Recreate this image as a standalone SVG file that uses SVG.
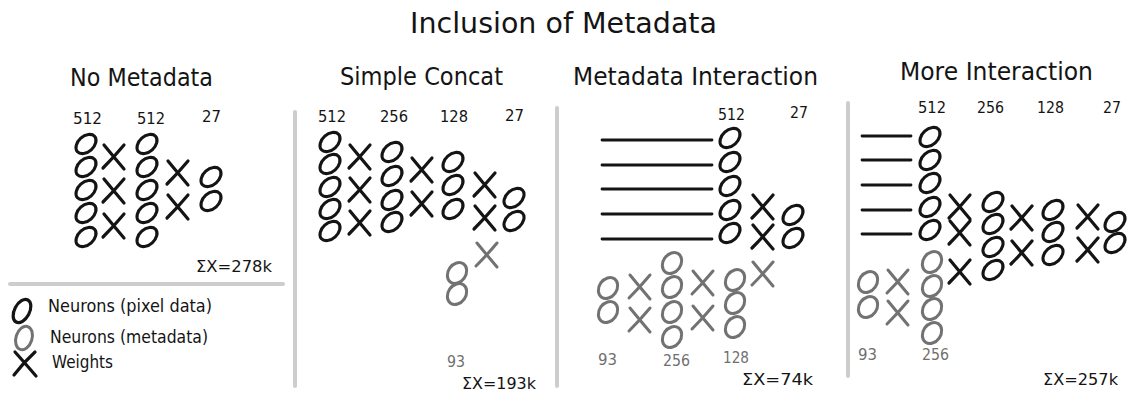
<svg xmlns="http://www.w3.org/2000/svg" xmlns:xlink="http://www.w3.org/1999/xlink" width="1135" height="398" viewBox="0 0 1135 398">
  <style>
    text { font-family: "DejaVu Sans", "Liberation Sans", sans-serif; fill: #141414; }
    .title { font-size: 28.5px; }
    .head { font-size: 24.5px; }
    .num { font-size: 16.5px; }
    .num.md { fill: #6f6f6f; }
    .sum { font-size: 16.5px; }
    .leg { font-size: 18.5px; }
    .divider { stroke: #cdcdcd; stroke-width: 4; stroke-linecap: round; fill: none; }
    .line { stroke: #141414; stroke-width: 2.8; stroke-linecap: round; }
  </style>
  <defs>
    <!-- neuron carrying pixel data -->
    <ellipse id="op" rx="11.5" ry="7.8" transform="rotate(-42)" fill="none" stroke="#141414" stroke-width="3.1"/>
    <!-- neuron carrying metadata -->
    <ellipse id="om" rx="11.2" ry="8.8" transform="rotate(-55)" fill="none" stroke="#727272" stroke-width="3"/>
    <!-- weight blocks -->
    <path id="xp" d="M-10,-12 Q-1,-1 10,12 M10,-12 Q0,0 -11,11" fill="none" stroke="#141414" stroke-width="3.2" stroke-linecap="round"/>
    <path id="xm" d="M-10,-12 Q-1,-1 10,12 M10,-12 Q0,0 -11,11" fill="none" stroke="#727272" stroke-width="3" stroke-linecap="round"/>
  </defs>

  <rect width="1135" height="398" fill="#ffffff"/>

  <text class="title" x="410" y="33" textLength="307" lengthAdjust="spacingAndGlyphs">Inclusion of Metadata</text>

  <!-- panel separators -->
  <g id="dividers">
    <line class="divider" x1="10" y1="284" x2="283" y2="284"/>
    <line class="divider" x1="295" y1="112" x2="295" y2="386"/>
    <line class="divider" x1="557" y1="108" x2="557" y2="386"/>
    <line class="divider" x1="848" y1="103" x2="848" y2="376"/>
  </g>

  <!-- No Metadata -->
  <g id="panel-no-metadata">
    <text class="head" x="70" y="86" textLength="143" lengthAdjust="spacingAndGlyphs">No Metadata</text>
    <text class="num" x="73" y="124" textLength="29" lengthAdjust="spacingAndGlyphs">512</text>
    <text class="num" x="137" y="124" textLength="28" lengthAdjust="spacingAndGlyphs">512</text>
    <text class="num" x="202" y="122" textLength="19" lengthAdjust="spacingAndGlyphs">27</text>
    <g id="nm-l1">
      <use href="#op" x="86" y="144"/><use href="#op" x="86" y="167"/><use href="#op" x="86" y="190"/><use href="#op" x="86" y="213"/><use href="#op" x="86" y="237"/>
    </g>
    <g id="nm-w1">
      <use href="#xp" x="114" y="157"/><use href="#xp" x="114" y="191"/><use href="#xp" x="114" y="226"/>
    </g>
    <g id="nm-l2">
      <use href="#op" x="147" y="144"/><use href="#op" x="147" y="167"/><use href="#op" x="147" y="190"/><use href="#op" x="147" y="213"/><use href="#op" x="147" y="237"/>
    </g>
    <g id="nm-w2">
      <use href="#xp" x="178" y="173"/><use href="#xp" x="178" y="207"/>
    </g>
    <g id="nm-out">
      <use href="#op" x="211" y="177"/><use href="#op" x="211" y="201"/>
    </g>
    <text class="sum" x="196" y="272" textLength="76" lengthAdjust="spacingAndGlyphs">ΣX=278k</text>
  </g>

  <!-- Legend -->
  <g id="legend">
    <ellipse cx="22" cy="311" rx="12.5" ry="7.5" transform="rotate(-62 22 311)" fill="none" stroke="#141414" stroke-width="3.2"/>
    <text class="leg" x="48" y="312" textLength="164" lengthAdjust="spacingAndGlyphs">Neurons (pixel data)</text>
    <ellipse cx="24" cy="338" rx="12" ry="8" transform="rotate(-72 24 338)" fill="none" stroke="#727272" stroke-width="3"/>
    <text class="leg" x="50" y="343" textLength="158" lengthAdjust="spacingAndGlyphs">Neurons (metadata)</text>
    <path d="M15,352 Q24,362 36,376 M35,352 Q24,362 14,375" fill="none" stroke="#141414" stroke-width="3.2" stroke-linecap="round"/>
    <text class="leg" x="52" y="368" textLength="61" lengthAdjust="spacingAndGlyphs">Weights</text>
  </g>

  <!-- Simple Concat -->
  <g id="panel-simple-concat">
    <text class="head" x="340" y="85" textLength="163" lengthAdjust="spacingAndGlyphs">Simple Concat</text>
    <text class="num" x="318" y="122" textLength="28" lengthAdjust="spacingAndGlyphs">512</text>
    <text class="num" x="380" y="122" textLength="28" lengthAdjust="spacingAndGlyphs">256</text>
    <text class="num" x="440" y="122" textLength="28" lengthAdjust="spacingAndGlyphs">128</text>
    <text class="num" x="505" y="121" textLength="19" lengthAdjust="spacingAndGlyphs">27</text>
    <g id="sc-l1">
      <use href="#op" x="330" y="142"/><use href="#op" x="330" y="164"/><use href="#op" x="330" y="187"/><use href="#op" x="330" y="209"/><use href="#op" x="330" y="231"/>
    </g>
    <g id="sc-w1">
      <use href="#xp" x="360" y="157"/><use href="#xp" x="360" y="190"/><use href="#xp" x="360" y="223"/>
    </g>
    <g id="sc-l2">
      <use href="#op" x="392" y="152"/><use href="#op" x="392" y="176"/><use href="#op" x="392" y="200"/><use href="#op" x="392" y="222"/>
    </g>
    <g id="sc-w2">
      <use href="#xp" x="422" y="170"/><use href="#xp" x="422" y="204"/>
    </g>
    <g id="sc-l3">
      <use href="#op" x="453" y="162"/><use href="#op" x="453" y="185"/><use href="#op" x="453" y="209"/>
    </g>
    <g id="sc-meta">
      <use href="#om" x="457" y="273"/><use href="#om" x="457" y="294"/>
    </g>
    <g id="sc-w3">
      <use href="#xp" x="485" y="185"/><use href="#xp" x="485" y="218"/><use href="#xm" x="487" y="255"/>
    </g>
    <g id="sc-out">
      <use href="#op" x="514" y="198"/><use href="#op" x="514" y="221"/>
    </g>
    <text class="num md" x="447" y="367" textLength="18" lengthAdjust="spacingAndGlyphs">93</text>
    <text class="sum" x="462" y="389" textLength="74" lengthAdjust="spacingAndGlyphs">ΣX=193k</text>
  </g>

  <!-- Metadata Interaction -->
  <g id="panel-metadata-interaction">
    <text class="head" x="573" y="85" textLength="245" lengthAdjust="spacingAndGlyphs">Metadata Interaction</text>
    <text class="num" x="718" y="120" textLength="27" lengthAdjust="spacingAndGlyphs">512</text>
    <text class="num" x="790" y="118" textLength="18" lengthAdjust="spacingAndGlyphs">27</text>
    <g id="mi-feed">
      <line class="line" x1="602" y1="140" x2="712" y2="140"/>
      <line class="line" x1="602" y1="165" x2="712" y2="165"/>
      <line class="line" x1="602" y1="189" x2="712" y2="189"/>
      <line class="line" x1="602" y1="214" x2="712" y2="214"/>
      <line class="line" x1="602" y1="239" x2="712" y2="239"/>
    </g>
    <g id="mi-l1">
      <use href="#op" x="730" y="138"/><use href="#op" x="730" y="162"/><use href="#op" x="730" y="186"/><use href="#op" x="730" y="210"/><use href="#op" x="730" y="233"/>
    </g>
    <g id="mi-w-out">
      <use href="#xp" x="763" y="207"/><use href="#xp" x="763" y="237"/><use href="#xm" x="763" y="274"/>
    </g>
    <g id="mi-out">
      <use href="#op" x="793" y="215"/><use href="#op" x="793" y="238"/>
    </g>
    <g id="mi-meta1">
      <use href="#om" x="608" y="288"/><use href="#om" x="608" y="312"/>
    </g>
    <g id="mi-mw1">
      <use href="#xm" x="640" y="287"/><use href="#xm" x="640" y="320"/>
    </g>
    <g id="mi-meta2">
      <use href="#om" x="672" y="263"/><use href="#om" x="672" y="287"/><use href="#om" x="672" y="312"/><use href="#om" x="672" y="337"/>
    </g>
    <g id="mi-mw2">
      <use href="#xm" x="703" y="283"/><use href="#xm" x="703" y="318"/>
    </g>
    <g id="mi-meta3">
      <use href="#om" x="735" y="280"/><use href="#om" x="735" y="303"/><use href="#om" x="735" y="327"/>
    </g>
    <text class="num md" x="598" y="365" textLength="19" lengthAdjust="spacingAndGlyphs">93</text>
    <text class="num md" x="663" y="366" textLength="27" lengthAdjust="spacingAndGlyphs">256</text>
    <text class="num md" x="723" y="363" textLength="26" lengthAdjust="spacingAndGlyphs">128</text>
    <text class="sum" x="742" y="385" textLength="71" lengthAdjust="spacingAndGlyphs">ΣX=74k</text>
  </g>

  <!-- More Interaction -->
  <g id="panel-more-interaction">
    <text class="head" x="900" y="80" textLength="193" lengthAdjust="spacingAndGlyphs">More Interaction</text>
    <text class="num" x="918" y="113" textLength="28" lengthAdjust="spacingAndGlyphs">512</text>
    <text class="num" x="977" y="113" textLength="27" lengthAdjust="spacingAndGlyphs">256</text>
    <text class="num" x="1037" y="113" textLength="27" lengthAdjust="spacingAndGlyphs">128</text>
    <text class="num" x="1103" y="113" textLength="18" lengthAdjust="spacingAndGlyphs">27</text>
    <g id="mo-feed">
      <line class="line" x1="862" y1="136" x2="911" y2="136"/>
      <line class="line" x1="862" y1="160" x2="911" y2="160"/>
      <line class="line" x1="862" y1="185" x2="911" y2="185"/>
      <line class="line" x1="862" y1="210" x2="911" y2="210"/>
      <line class="line" x1="862" y1="234" x2="911" y2="234"/>
    </g>
    <g id="mo-l1">
      <use href="#op" x="930" y="137"/><use href="#op" x="930" y="160"/><use href="#op" x="930" y="183"/><use href="#op" x="930" y="207"/><use href="#op" x="930" y="230"/>
    </g>
    <g id="mo-meta1">
      <use href="#om" x="868" y="282"/><use href="#om" x="868" y="307"/>
    </g>
    <g id="mo-mw1">
      <use href="#xm" x="898" y="282"/><use href="#xm" x="898" y="313"/>
    </g>
    <g id="mo-meta2">
      <use href="#om" x="932" y="262"/><use href="#om" x="932" y="286"/><use href="#om" x="932" y="309"/><use href="#om" x="932" y="333"/>
    </g>
    <g id="mo-w1">
      <use href="#xp" x="960" y="207"/><use href="#xp" x="960" y="233"/><use href="#xp" x="960" y="272"/>
    </g>
    <g id="mo-l2">
      <use href="#op" x="993" y="202"/><use href="#op" x="993" y="224"/><use href="#op" x="993" y="247"/><use href="#op" x="993" y="270"/>
    </g>
    <g id="mo-w2">
      <use href="#xp" x="1022" y="218"/><use href="#xp" x="1022" y="253"/>
    </g>
    <g id="mo-l3">
      <use href="#op" x="1053" y="210"/><use href="#op" x="1053" y="232"/><use href="#op" x="1053" y="255"/>
    </g>
    <g id="mo-w3">
      <use href="#xp" x="1088" y="217"/><use href="#xp" x="1088" y="250"/>
    </g>
    <g id="mo-out">
      <use href="#op" x="1115" y="222"/><use href="#op" x="1115" y="243"/>
    </g>
    <text class="num md" x="858" y="360" textLength="19" lengthAdjust="spacingAndGlyphs">93</text>
    <text class="num md" x="922" y="360" textLength="27" lengthAdjust="spacingAndGlyphs">256</text>
    <text class="sum" x="1043" y="385" textLength="75" lengthAdjust="spacingAndGlyphs">ΣX=257k</text>
  </g>
</svg>
